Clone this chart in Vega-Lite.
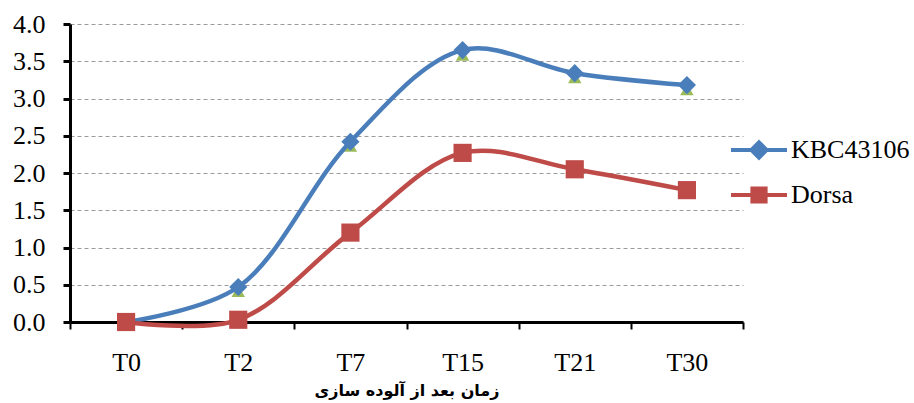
{
  "$schema": "https://vega.github.io/schema/vega-lite/v6.json",
  "autosize": "none",
  "width": 673,
  "height": 298,
  "padding": {"left": 70, "top": 24, "right": 171, "bottom": 81},
  "background": "white",
  "config": {"view": {"stroke": null}},
  "datasets": {
    "main": [
      {"time": "T0", "series": "KBC43106", "value": 0.0},
      {"time": "T2", "series": "KBC43106", "value": 0.47},
      {"time": "T7", "series": "KBC43106", "value": 2.42},
      {"time": "T15", "series": "KBC43106", "value": 3.65},
      {"time": "T21", "series": "KBC43106", "value": 3.34},
      {"time": "T30", "series": "KBC43106", "value": 3.18},
      {"time": "T0", "series": "Dorsa", "value": 0.0},
      {"time": "T2", "series": "Dorsa", "value": 0.03},
      {"time": "T7", "series": "Dorsa", "value": 1.2},
      {"time": "T15", "series": "Dorsa", "value": 2.27},
      {"time": "T21", "series": "Dorsa", "value": 2.05},
      {"time": "T30", "series": "Dorsa", "value": 1.77}
    ],
    "third": [
      {"time": "T2", "value": 0.44},
      {"time": "T7", "value": 2.39},
      {"time": "T15", "value": 3.61},
      {"time": "T21", "value": 3.31},
      {"time": "T30", "value": 3.15}
    ]
  },
  "encoding": {
    "x": {
      "field": "time",
      "type": "nominal",
      "sort": ["T0", "T2", "T7", "T15", "T21", "T30"],
      "scale": {"domain": ["T0", "T2", "T7", "T15", "T21", "T30"], "paddingInner": 0, "paddingOuter": 0},
      "axis": {
        "title": "زمان بعد از آلوده سازی",
        "titleFont": "DejaVu Sans",
        "titleFontWeight": "bold",
        "titleFontSize": 16,
        "titleColor": "black",
        "titlePadding": 7,
        "labelAngle": 0,
        "labelFont": "Times New Roman, Liberation Serif, serif",
        "labelFontSize": 26,
        "labelColor": "black",
        "labelPadding": 20,
        "tickBand": "extent",
        "tickSize": 7,
        "tickWidth": 2,
        "tickColor": "black",
        "domainColor": "black",
        "domainWidth": 3,
        "grid": false
      }
    },
    "y": {
      "field": "value",
      "type": "quantitative",
      "scale": {"domain": [0, 4], "nice": false},
      "axis": {
        "title": null,
        "values": [0, 0.5, 1, 1.5, 2, 2.5, 3, 3.5, 4],
        "format": ".1f",
        "labelFont": "Times New Roman, Liberation Serif, serif",
        "labelFontSize": 26,
        "labelColor": "black",
        "labelPadding": 18,
        "tickSize": 7,
        "tickWidth": 3,
        "tickColor": "black",
        "domainColor": "black",
        "domainWidth": 3,
        "grid": true,
        "gridColor": "#9a9a9a",
        "gridDash": [4, 3],
        "gridWidth": 1
      }
    }
  },
  "layer": [
    {
      "data": {"name": "third"},
      "mark": {"type": "point", "shape": "triangle-up", "filled": true, "color": "#9BBB59", "size": 180, "opacity": 1, "yOffset": 2}
    },
    {
      "data": {"name": "main"},
      "mark": {"type": "line", "interpolate": "catmull-rom", "strokeWidth": 4.5},
      "encoding": {
        "color": {
          "field": "series",
          "type": "nominal",
          "scale": {"domain": ["KBC43106", "Dorsa"], "range": ["#4A7EBB", "#BE4B48"]},
          "legend": {
            "title": null,
            "orient": "none",
            "legendX": 667,
            "legendY": 104,
            "padding": 0,
            "rowPadding": 7,
            "symbolSize": 1600,
            "symbolStrokeWidth": 4,
            "labelFont": "Times New Roman, Liberation Serif, serif",
            "labelFontSize": 26,
            "labelColor": "black",
            "labelOffset": 10,
            "labelLimit": 300,
            "encode": {
              "symbols": {
                "update": {
                  "shape": {"signal": "datum.value === 'KBC43106' ? 'M-1.4,0L1.4,0M0,-0.38L0.38,0L0,0.38L-0.38,0Z' : 'M-1.4,0L1.4,0M-0.33,-0.33L0.33,-0.33L0.33,0.33L-0.33,0.33Z'"},
                  "fill": {"scale": "color", "field": "value"},
                  "stroke": {"scale": "color", "field": "value"},
                  "strokeWidth": {"value": 4},
                  "size": {"value": 1600},
                  "opacity": {"value": 1}
                }
              }
            }
          }
        },
        "detail": {"field": "series"}
      }
    },
    {
      "data": {"name": "main"},
      "transform": [{"filter": "datum.series === 'KBC43106'"}],
      "mark": {"type": "point", "shape": "diamond", "filled": true, "size": 330, "opacity": 1},
      "encoding": {
        "color": {"field": "series", "type": "nominal"}
      }
    },
    {
      "data": {"name": "main"},
      "transform": [{"filter": "datum.series === 'Dorsa'"}],
      "mark": {"type": "point", "shape": "square", "filled": true, "size": 330, "opacity": 1},
      "encoding": {
        "color": {"field": "series", "type": "nominal"}
      }
    }
  ]
}
